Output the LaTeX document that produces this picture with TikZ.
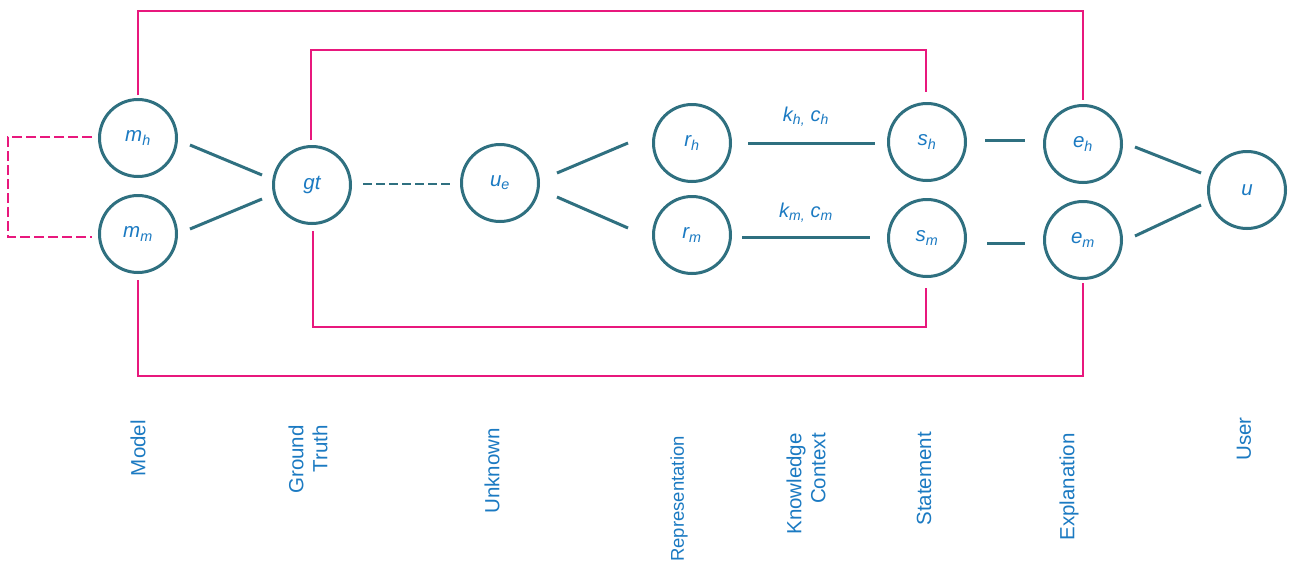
\documentclass[tikz,border=0pt]{standalone}
\usepackage{fontspec}
\setmainfont{Liberation Sans}
\usetikzlibrary{calc}
\definecolor{tealc}{RGB}{47,112,128}
\definecolor{pinkc}{RGB}{232,24,125}
\definecolor{bluet}{RGB}{27,122,194}
\newcommand\lsub[1]{\textsubscript{#1}}
\begin{document}
\begin{tikzpicture}[x=1pt,y=-1pt,
  state/.style={circle,draw=tealc,line width=3pt,minimum size=77pt,inner sep=0pt,text=bluet,font=\fontsize{20.5}{24}\selectfont\itshape},
  link/.style={draw=tealc,line width=3pt},
  dlink/.style={draw=tealc,line width=2.5pt,dash pattern=on 9pt off 4pt},
  loopline/.style={draw=pinkc,line width=2.5pt},
  dloopline/.style={loopline,dash pattern=on 10pt off 4pt},
  cat/.style={rotate=90,anchor=east,inner sep=0pt,text=bluet,font=\fontsize{20.5}{24}\selectfont,align=right},
  klabel/.style={text=bluet,font=\fontsize{20}{24}\selectfont\itshape,inner sep=0pt}]
\useasboundingbox[fill=white] (0,0) rectangle (1294,563);

% states
\node[state] (mh) at (138,138) {m\lsub{h}};
\node[state] (mm) at (138,234) {m\lsub{m}};
\node[state] (gt) at (312,185) {gt};
\node[state] (ue) at (500,183) {u\lsub{e}};
\node[state] (rh) at (692,143) {r\lsub{h}};
\node[state] (rm) at (692,235) {r\lsub{m}};
\node[state] (sh) at (927,142) {s\lsub{h}};
\node[state] (sm) at (927,238) {s\lsub{m}};
\node[state] (eh) at (1083,144) {e\lsub{h}};
\node[state] (em) at (1083,240) {e\lsub{m}};
\node[state] (u)  at (1247,190) {u};

% edge labels
\node[klabel] (kh) at (806,117) {k\lsub{h,} c\lsub{h}};
\node[klabel] (km) at (806,213) {k\lsub{m,} c\lsub{m}};

% teal connectors
\draw[link] ($(mh)+(52,7)$) -- ($(gt)+(-50,-10)$);
\draw[link] ($(mm)+(52,-5)$) -- ($(gt)+(-50,14)$);
\draw[dlink] ($(gt)+(51,-1)$) -- ($(ue)+(-48,1)$);
\draw[link] ($(ue)+(57,-10)$) -- ($(rh)+(-64,0)$);
\draw[link] ($(ue)+(57,14)$) -- ($(rm)+(-64,-7)$);
\draw[link] ($(rh)+(56,0)$) -- ($(sh)+(-52,1)$);
\draw[link] ($(rm)+(50,2)$) -- ($(sm)+(-57,-1)$);
\draw[link] ($(sh)+(58,-2)$) -- ($(eh)+(-58,-4)$);
\draw[link] ($(sm)+(60,5)$) -- ($(em)+(-58,3)$);
\draw[link] ($(eh)+(52,3)$) -- ($(u)+(-46,-17)$);
\draw[link] ($(em)+(52,-4)$) -- ($(u)+(-46,15)$);

% pink loops
\draw[loopline] ($(mh)+(0,-43)$) -- ++(0,-84) -| ($(eh)+(0,-44)$);
\draw[loopline] ($(mm)+(0,46)$) -- ++(0,96) -| ($(em)+(0,43)$);
\draw[loopline] ($(gt)+(-1,-45)$) -- ++(0,-90) -| ($(sh)+(-1,-50)$);
\draw[loopline] ($(gt)+(1,46)$) -- ++(0,96) -| ($(sm)+(-1,50)$);
\draw[dloopline] ($(mh)+(-46,-1)$) -- ++(-84,0) |- ($(mm)+(-46,3)$);

% category labels
\node[cat] (lmodel) at (138,420) {Model};
\node[cat] (lgt) at (308,425) {Ground\\Truth};
\node[cat] (lunk) at (492,428) {Unknown};
\node[cat,font=\fontsize{18.5}{22}\selectfont] (lrep) at (679,436) {Representation};
\node[cat] (lkc) at (806,433) {Knowledge\\Context};
\node[cat] (lst) at (924,432) {Statement};
\node[cat] (lex) at (1069,433) {Explanation};
\node[cat] (luser) at (1244,417) {User};
\end{tikzpicture}
\end{document}
